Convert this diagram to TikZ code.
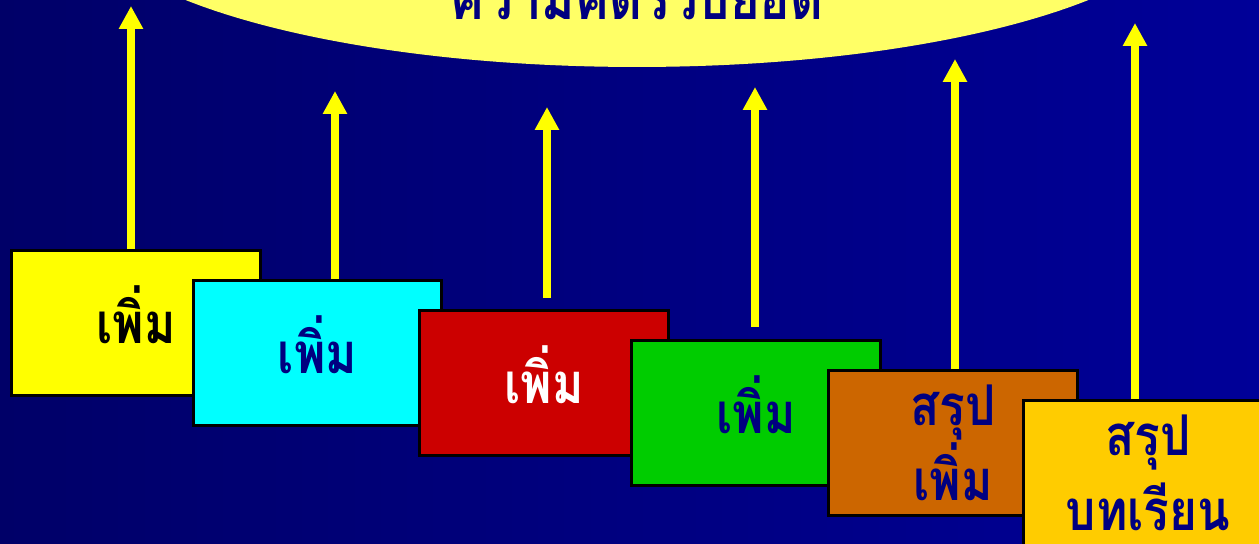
\documentclass[tikz,border=0pt]{standalone}
\usepackage{fontspec}
\newfontfamily\thaifont[Script=Thai, FakeStretch=0.85]{Loma}
\usetikzlibrary{arrows.meta,positioning}
\definecolor{bgnavy}{RGB}{0,0,104}
\definecolor{bgblue}{RGB}{0,0,152}
\definecolor{ovalyellow}{RGB}{255,255,102}
\definecolor{arrowyellow}{RGB}{255,255,0}
\definecolor{txtnavy}{RGB}{0,0,128}
\definecolor{boxyellow}{RGB}{255,255,0}
\definecolor{boxcyan}{RGB}{0,255,255}
\definecolor{boxred}{RGB}{204,0,0}
\definecolor{boxgreen}{RGB}{0,204,0}
\definecolor{boxorange}{RGB}{204,102,0}
\definecolor{boxgold}{RGB}{255,204,0}
\tikzset{
  stepbox/.style={draw=black, line width=1.7pt, minimum width=4.98cm, minimum height=2.9cm,
                  inner sep=0pt, align=center, text=txtnavy,
                  font=\thaifont\bfseries\fontsize{32}{43}\selectfont},
  oneword/.style={text depth=10pt},
  uparrow/.style={-{Triangle[length=13pt, width=13pt]}, line width=4pt, draw=arrowyellow},
  ovaltext/.style={anchor=base, text=txtnavy, font=\thaifont\bfseries\fontsize{34}{40}\selectfont},
}
\begin{document}
\begin{tikzpicture}[x=0.02cm, y=-0.02cm]
  \useasboundingbox (0,0) rectangle (1259,544);
  \clip (0,0) rectangle (1259,544);
  \shade[left color=bgnavy, right color=bgblue] (0,0) rectangle (1259,544);
  \fill[ovalyellow] (637,-97) ellipse [x radius=11.2cm, y radius=3.28cm];
  \node[ovaltext] (oval) at (637,20) {ความคิดรวบยอด};
  % steps
  \node[stepbox, oneword, fill=boxyellow, text=black] (s1) at (136,323) {เพิ่ม};
  \node[stepbox, oneword, fill=boxcyan] (s2) at (317.5,353) {เพิ่ม};
  \node[stepbox, oneword, fill=boxred, text=white] (s3) at (544,383) {เพิ่ม};
  \node[stepbox, oneword, fill=boxgreen] (s4) at (756,413) {เพิ่ม};
  \node[stepbox, fill=boxorange] (s5) at (953,443) {สรุป\\เพิ่ม};
  \node[stepbox, fill=boxgold] (s6) at (1148,473) {สรุป\\บทเรียน};
  % arrow tips
  \coordinate (t1) at (131,6);
  \coordinate (t2) at (335,91);
  \coordinate (t3) at (547,107);
  \coordinate (t4) at (755,87);
  \coordinate (t5) at (955,59);
  \coordinate (t6) at (1135,23);
  \draw[uparrow] (s1.north -| t1) -- (t1);
  \draw[uparrow] (s2.north -| t2) -- (t2);
  \draw[uparrow] ([yshift=0.22cm]s3.north -| t3) -- (t3);
  \draw[uparrow] ([yshift=0.24cm]s4.north -| t4) -- (t4);
  \draw[uparrow] (s5.north -| t5) -- (t5);
  \draw[uparrow] (s6.north -| t6) -- (t6);
\end{tikzpicture}
\end{document}
